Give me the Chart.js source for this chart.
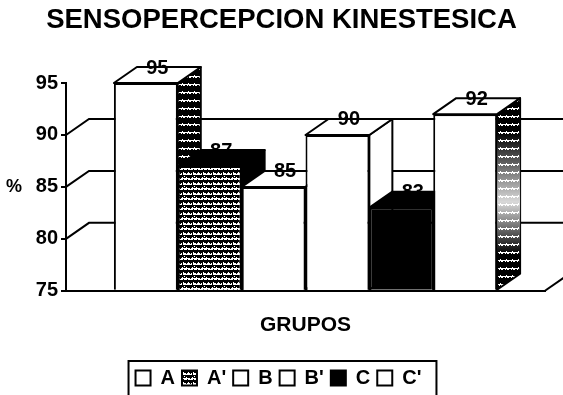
<!DOCTYPE html>
<html>
<head>
<meta charset="utf-8">
<style>
  html, body { margin: 0; padding: 0; background: #fff; }
  canvas { display: block; }
</style>
<script src="https://cdn.jsdelivr.net/npm/chart.js@4"></script>
</head>
<body>
<canvas id="chart" width="563" height="395"></canvas>
<script>
// values
const chartTitle = "SENSOPERCEPCION KINESTESICA";
const xAxisTitle = "GRUPOS";
const yAxisTitle = "%";
const categories = [""];
const groupNames = ["A", "A'", "B", "B'", "C", "C'"];
const groupValues = [95, 87, 85, 90, 83, 92];
const yTicks = [75, 80, 85, 90, 95];

const depthX = 23, depthY = 16;
const fontName = '"Liberation Sans", Arial, sans-serif';

// tile helper: '#' is black, anything else white
function makeTile(rows) {
    const c = document.createElement('canvas');
    c.width = rows[0].length;
    c.height = rows.length;
    const g = c.getContext('2d');
    g.fillStyle = '#fff';
    g.fillRect(0, 0, c.width, c.height);
    g.fillStyle = '#000';
    rows.forEach((r, y) => {
        for (let x = 0; x < r.length; x++) if (r[x] === '#') g.fillRect(x, y, 1, 1);
    });
    return document.getElementById('chart').getContext('2d').createPattern(c, 'repeat');
}

const denseHatch = makeTile([
    "##########",
    "##########",
    "###.####.#",
    "#.#...#...",
    "..#.......",
    "##########",
    "####.#####",
    "##.###.###",
    "#.........",
    "...#...#.."
]);
const sideStripes = makeTile([
    "######",
    "######",
    "######",
    "##.###",
    "......",
    "#.#..#",
    "######",
    "######"
]);

const frontColors = ['#fff', denseHatch, '#fff', '#fff', '#000', '#fff'];
const sideColors = [sideStripes, '#000', '#fff', '#fff', '#000', sideStripes];
const topColors = ['#fff', '#000', '#fff', '#fff', '#000', '#fff'];

const depth3d = {
    id: 'depth3d',
    afterLayout(chart) {
        // the title and legend sit centred on the page, not on the padded area
        chart.titleBlock.left += 9;
        chart.titleBlock.right += 9;
        chart.legend.left += 6;
        chart.legend.right += 6;
        chart.legend.top += 3;
        chart.legend.bottom += 3;
        chart.legend.adjustHitBoxes();
    },
    beforeDatasetsDraw(chart) {
        const g = chart.ctx, y = chart.scales.y, a = chart.chartArea;
        g.save();
        g.strokeStyle = '#000';
        g.lineWidth = 2;
        // back wall lines, the 95 and 75 levels are not drawn in the original
        yTicks.slice(1, -1).forEach(t => {
            const py = y.getPixelForValue(t);
            g.beginPath();
            g.moveTo(a.left, py);
            g.lineTo(a.left + depthX, py - depthY);
            g.lineTo(a.right + depthX, py - depthY);
            g.stroke();
        });
        g.beginPath();
        g.moveTo(a.right, a.bottom);
        g.lineTo(a.right + depthX, a.bottom - depthY);
        g.stroke();

        // sides and tops left to right, so that later bars cover earlier ones
        g.lineJoin = 'round';
        groupValues.forEach((v, i) => {
            const bar = chart.getDatasetMeta(i).data[0];
            const x0 = bar.x - bar.width / 2, x1 = bar.x + bar.width / 2;
            const t = bar.y, b = bar.base;
            g.fillStyle = sideColors[i];
            g.beginPath();
            g.moveTo(x1, t);
            g.lineTo(x1 + depthX, t - depthY);
            g.lineTo(x1 + depthX, b - depthY);
            g.lineTo(x1, b);
            g.closePath();
            g.fill();
            g.stroke();
            if (i === 5) {
                // washed out middle of the last side
                const fade = g.createLinearGradient(0, t, 0, b);
                fade.addColorStop(0.1, 'rgba(255,255,255,0)');
                fade.addColorStop(0.5, 'rgba(255,255,255,0.85)');
                fade.addColorStop(0.8, 'rgba(255,255,255,0)');
                g.fillStyle = fade;
                g.fill();
            }
            g.fillStyle = topColors[i];
            g.beginPath();
            g.moveTo(x0, t);
            g.lineTo(x0 + depthX, t - depthY);
            g.lineTo(x1 + depthX, t - depthY);
            g.lineTo(x1, t);
            g.closePath();
            g.fill();
            g.stroke();
        });
        g.restore();
    },
    afterDatasetsDraw(chart) {
        const g = chart.ctx;
        g.save();
        g.fillStyle = '#000';
        g.font = 'bold 20px ' + fontName;
        g.textAlign = 'center';
        g.textBaseline = 'middle';
        groupValues.forEach((v, i) => {
            const bar = chart.getDatasetMeta(i).data[0];
            g.fillText(v, bar.x + depthX / 2, bar.y - depthY + 1);
        });
        // % stays horizontal, which an axis title would not do
        g.font = 'bold 18px ' + fontName;
        g.fillText(yAxisTitle, 14, chart.scales.y.getPixelForValue(85));
        g.restore();
    },
    afterDraw(chart) {
        const boxes = chart.legend.legendHitBoxes;
        const g = chart.ctx;
        const left = boxes[0].left - 7;
        const last = boxes[boxes.length - 1];
        const right = last.left + last.width + 15;
        g.save();
        g.strokeStyle = '#000';
        g.lineWidth = 2;
        g.beginPath();
        g.moveTo(left, 398);
        g.lineTo(left, chart.legend.top);
        g.lineTo(right, chart.legend.top);
        g.lineTo(right, 398);
        g.stroke();
        g.restore();
    }
};

const datasets = groupNames.map((name, i) => ({
    label: name,
    data: [groupValues[i]],
    base: 75,
    backgroundColor: frontColors[i],
    borderColor: '#000',
    borderWidth: 2,
    barPercentage: 1,
    categoryPercentage: 0.8
}));

new Chart(document.getElementById('chart').getContext('2d'), {
    type: 'bar',
    data: { labels: categories, datasets: datasets },
    plugins: [depth3d],
    options: {
        responsive: false,
        animation: false,
        layout: { padding: { left: 0, right: 18, top: 0, bottom: 0 } },
        scales: {
            x: {
                grid: { display: false },
                border: { color: '#000', width: 2 },
                ticks: { display: false },
                title: {
                    display: true,
                    text: xAxisTitle,
                    color: '#000',
                    font: { family: fontName, size: 21, weight: 'bold' },
                    padding: { top: 14, bottom: 20 }
                }
            },
            y: {
                min: 75,
                max: 95,
                afterFit(scale) { scale.width = 66; },
                afterBuildTicks(scale) { scale.ticks = yTicks.map(v => ({ value: v })); },
                grid: { drawOnChartArea: false, color: '#000', lineWidth: 2, tickLength: 5 },
                border: { color: '#000', width: 2 },
                ticks: {
                    color: '#000',
                    padding: 3,
                    font: { family: fontName, size: 20, weight: 'bold' }
                }
            }
        },
        plugins: {
            tooltip: { enabled: false },
            title: {
                display: true,
                text: chartTitle,
                color: '#000',
                font: { family: fontName, size: 27.5, weight: 'bold' },
                padding: { top: 4, bottom: 46 }
            },
            legend: {
                position: 'bottom',
                onClick: null,
                labels: {
                    color: '#000',
                    boxWidth: 15,
                    boxHeight: 15,
                    padding: 7,
                    font: { family: fontName, size: 20, weight: 'bold' }
                }
            }
        }
    }
});
</script>
</body>
</html>
